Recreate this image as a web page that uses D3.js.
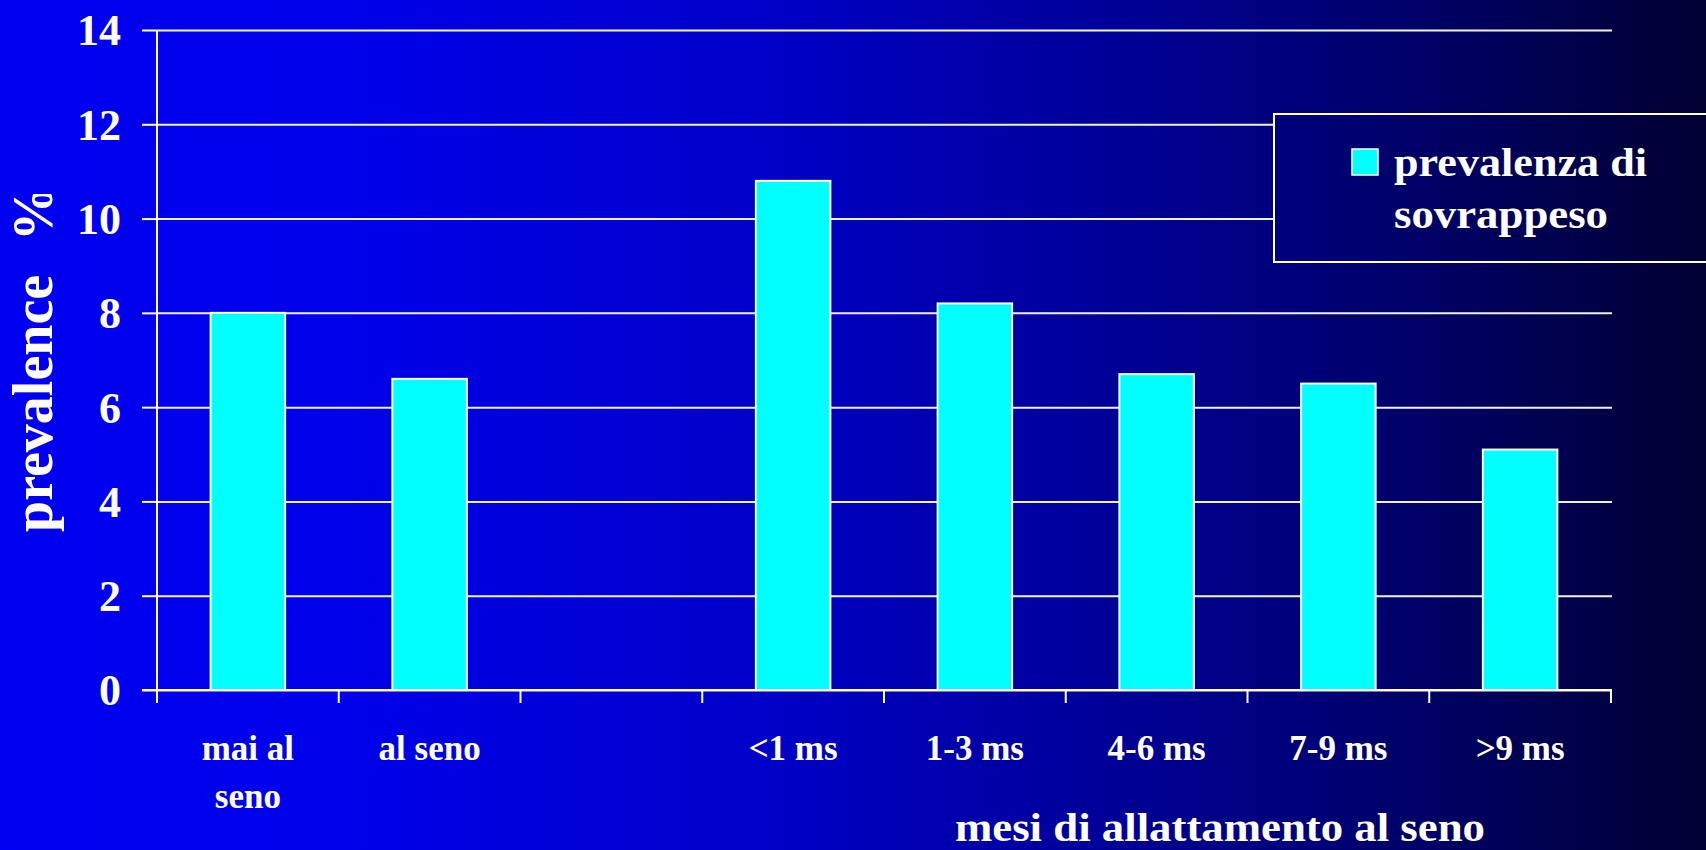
<!DOCTYPE html>
<html>
<head>
<meta charset="utf-8">
<script src="https://cdn.jsdelivr.net/npm/d3@7"></script>
<style>
  html, body { margin: 0; padding: 0; background: #000033; overflow: hidden; }
  svg { display: block; }
  text { font-family: "Liberation Serif", "Times New Roman", serif; font-weight: bold; fill: #ffffff; }
</style>
</head>
<body>
<svg id="chart" width="1706" height="850"></svg>
<script>
// Categories along the x axis (the third slot is an intentional gap)
const categories = ["mai", "alseno", "gap", "lt1", "m1_3", "m4_6", "m7_9", "gt9"];
const tickLabels = [["mai al", "seno"], ["al seno"], [], ["<1 ms"], ["1-3 ms"], ["4-6 ms"], ["7-9 ms"], [">9 ms"]];
// Prevalence of overweight (%), null = no bar
const prevalence = [8.0, 6.6, null, 10.8, 8.2, 6.7, 6.5, 5.1];
const yTicks = [0, 2, 4, 6, 8, 10, 12, 14];
const seriesName = ["prevalenza di", "sovrappeso"];
const yTitle = ["prevalence", "%"];
const xTitle = "mesi di allattamento al seno";

const W = 1706, H = 850;
const plotLeft = 157, plotRight = 1611, plotTop = 30, plotBottom = 690;

const svg = d3.select("#chart");
const defs = svg.append("defs");

// Blue-to-navy horizontal background gradient
const grad = defs.append("linearGradient")
  .attr("id", "bg").attr("gradientUnits", "userSpaceOnUse")
  .attr("x1", 0).attr("y1", 0).attr("x2", W).attr("y2", 0);
[[0, "#0000f2"], [0.2, "#0000ea"], [0.45, "#0000c8"], [0.65, "#000098"], [0.85, "#000062"], [1, "#000032"]]
  .forEach(([o, c]) => grad.append("stop").attr("offset", o).attr("stop-color", c));

// The rotated axis title is cut off at its top
defs.append("clipPath").attr("id", "titleClip")
  .append("rect").attr("x", 0).attr("y", 194).attr("width", 120).attr("height", 600);

svg.append("rect").attr("width", W).attr("height", H).attr("fill", "url(#bg)");

const x = d3.scaleBand().domain(categories).range([plotLeft, plotRight])
  .paddingInner(0.59).paddingOuter(0.295);
const y = d3.scaleLinear().domain([0, 14]).range([plotBottom, plotTop]);

// Horizontal gridlines
svg.append("g")
  .attr("transform", `translate(${plotLeft},0)`)
  .call(d3.axisLeft(y).tickValues(yTicks).tickSize(-(1612 - plotLeft)).tickFormat(""))
  .call(g => g.select(".domain").remove())
  .call(g => g.selectAll("line").attr("stroke", "#f0f0f0").attr("stroke-width", 2));

// Y axis ticks + labels
const yAxis = svg.append("g")
  .attr("transform", `translate(${plotLeft},0)`)
  .call(d3.axisLeft(y).tickValues(yTicks).tickSize(15).tickPadding(21).tickFormat(d3.format("d")));
yAxis.select(".domain").remove();
yAxis.selectAll("line").attr("stroke", "#ffffff").attr("stroke-width", 2);
yAxis.selectAll("text")
  .style("font-size", "44px").style("font-family", "Liberation Serif, serif")
  .style("font-weight", "bold").attr("fill", "#ffffff").attr("dy", "0.34em");

// Bars
const data = categories.map((c, i) => ({ c, v: prevalence[i] })).filter(d => d.v != null);
svg.append("g").selectAll("rect").data(data).join("rect")
  .attr("x", d => x(d.c))
  .attr("y", d => y(d.v))
  .attr("width", x.bandwidth())
  .attr("height", d => y(0) - y(d.v))
  .attr("fill", "#00ffff")
  .attr("stroke", "#ffffff")
  .attr("stroke-width", 2);

// X axis line and category boundary ticks
const tickLen = 13;
svg.append("line").attr("x1", 142).attr("x2", plotRight + 1).attr("y1", y(0)).attr("y2", y(0))
  .attr("stroke", "#ffffff").attr("stroke-width", 2);
svg.append("line").attr("x1", plotLeft).attr("x2", plotLeft).attr("y1", y(14)).attr("y2", y(0) + tickLen)
  .attr("stroke", "#ffffff").attr("stroke-width", 2);
const gapHalf = (x.step() - x.bandwidth()) / 2;
const bounds = categories.map(c => x(c) - gapHalf)
  .concat([x(categories[categories.length - 1]) + x.bandwidth() + gapHalf]);
svg.append("g").selectAll("line").data(bounds).join("line")
  .attr("x1", d => d).attr("x2", d => d)
  .attr("y1", y(0)).attr("y2", y(0) + tickLen)
  .attr("stroke", "#ffffff").attr("stroke-width", 2);

// X category labels
const xl = svg.append("g").selectAll("text").data(categories).join("text")
  .attr("x", d => x(d) + x.bandwidth() / 2)
  .attr("y", 760)
  .attr("text-anchor", "middle")
  .style("font-size", "35px");
xl.each(function (d, i) {
  d3.select(this).selectAll("tspan").data(tickLabels[i]).join("tspan")
    .attr("x", x(d) + x.bandwidth() / 2)
    .attr("dy", (t, j) => j === 0 ? 0 : 48)
    .text(t => t);
});

// Y axis title (rotated)
const yt = svg.append("g").attr("clip-path", "url(#titleClip)")
  .append("text")
  .attr("transform", "translate(52,532) rotate(-90)")
  .attr("text-anchor", "start")
  .style("font-size", "56px");
yt.append("tspan").text(yTitle[0]);
yt.append("tspan").attr("dx", 34).text(yTitle[1]);

// X axis title
svg.append("text")
  .attr("x", 955).attr("y", 841)
  .attr("textLength", 530).attr("lengthAdjust", "spacingAndGlyphs")
  .style("font-size", "40px")
  .text(xTitle);

// Legend
const lg = svg.append("g");
lg.append("rect").attr("x", 1274).attr("y", 114).attr("width", 480).attr("height", 148)
  .attr("fill", "url(#bg)").attr("stroke", "#ffffff").attr("stroke-width", 2);
lg.append("rect").attr("x", 1352).attr("y", 149).attr("width", 26).attr("height", 26)
  .attr("fill", "#00ffff").attr("stroke", "#ffffff").attr("stroke-width", 1.5);
const legendWidths = [253, 214];
lg.selectAll("text.lbl").data(seriesName).join("text")
  .attr("class", "lbl")
  .attr("x", 1394)
  .attr("y", (d, i) => 176 + i * 52)
  .attr("textLength", (d, i) => legendWidths[i]).attr("lengthAdjust", "spacingAndGlyphs")
  .style("font-size", "40px")
  .text(d => d);
</script>
</body>
</html>
